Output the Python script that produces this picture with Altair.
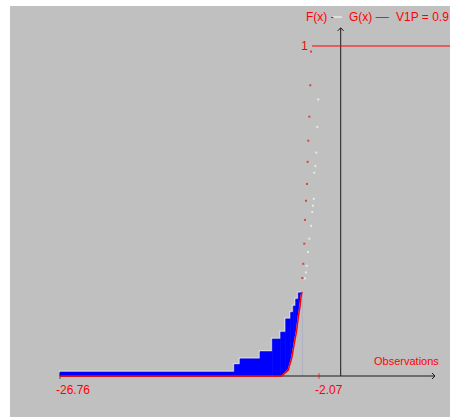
import altair as alt
import pandas as pd

# Observation range (min and max of the sample)
x_min, x_max = -26.76, -2.07

# G(x): empirical step function, step start positions and levels
g_x = [-26.76, -10.14, -9.60, -7.69, -6.52, -5.72, -5.24, -4.77, -4.52, -4.29, -4.04]
g_y = [0.012, 0.035, 0.052, 0.074, 0.112, 0.133, 0.173, 0.193, 0.212, 0.233, 0.252]
g_end = -3.69

# F(x): lower part of the theoretical curve
f_x = [-26.76, -5.62, -5.00, -4.67, -4.42, -4.19, -4.04, -3.88, -3.78, -3.69]
f_y = [0.0, 0.0, 0.018, 0.054, 0.100, 0.139, 0.179, 0.210, 0.240, 0.255]

# Upper, steep part of both curves (sampled points)
f_dot_x = [-3.66, -3.57, -3.47, -3.40, -3.31, -3.21, -3.15, -3.09, -2.99, -2.90, -2.83]
f_dot_y = [0.297, 0.340, 0.401, 0.473, 0.531, 0.582, 0.649, 0.713, 0.786, 0.881, 0.983]
g_dot_x = [-3.40, -3.31, -3.24, -3.12, -2.99, -2.83, -2.71, -2.64, -2.57, -2.52, -2.42, -2.33, -2.23, -2.14]
g_dot_y = [0.296, 0.314, 0.334, 0.376, 0.416, 0.455, 0.497, 0.516, 0.537, 0.616, 0.636, 0.677, 0.755, 0.838]
f_one_start = -2.73

legend_text = ["F(x) -", "G(x) ––", "V1P = 0.9"]
x_label = "Observations"

W, H = 440, 411
X_DOM = [-31.525, 10.42]
Y_DOM = [-0.1242, 1.1212]
xs = alt.Scale(domain=X_DOM, nice=False, zero=False)
ys = alt.Scale(domain=Y_DOM, nice=False, zero=False)
RED = "#ff0000"
FONT = "Liberation Sans"

steps = pd.DataFrame({"x": g_x, "x2": g_x[1:] + [g_end], "y": g_y, "y0": 0.0})
step_line = pd.DataFrame({"x": g_x + [g_end], "y": g_y + [g_y[-1]]})
fcurve = pd.DataFrame({"x": f_x, "y": f_y})
fcover = fcurve[fcurve["x"] >= -5.62].assign(y0=-0.002)
fdots = pd.DataFrame({"x": f_dot_x, "y": f_dot_y})
gdots = pd.DataFrame({"x": g_dot_x, "y": g_dot_y})
one = pd.DataFrame({"x": [f_one_start], "x2": [X_DOM[1]], "y": [1.0]})


def X(f="x"):
    return alt.X(f"{f}:Q", scale=xs, axis=None)


def Y(f="y"):
    return alt.Y(f"{f}:Q", scale=ys, axis=None)


# G(x) staircase, light edge along its outline, then F(x) cuts it from below
highlight = alt.Chart(step_line).mark_line(
    interpolate="step-after", color="#dcdcdc", strokeWidth=1, yOffset=-1, xOffset=-1
).encode(x=X(), y=Y())
blue = alt.Chart(steps).mark_rect(color="#0000ff", stroke="#0000ff", strokeWidth=0.6).encode(
    x=X(), x2="x2:Q", y=Y("y0"), y2="y:Q")
cover = alt.Chart(fcover).mark_area(
    color="#c0c0c0", stroke="#c0c0c0", strokeWidth=1.5, interpolate="linear"
).encode(x=X(), y=Y(), y2="y0:Q")

axes = pd.DataFrame({"x": [x_min, 0.0], "x2": [8.99, 0.0], "y": [0.0, 0.0], "y2": [0.0, 1.055]})
axis_lines = alt.Chart(axes).mark_rule(color="#1a1a1a", strokeWidth=1).encode(
    x=X(), x2="x2:Q", y=Y(), y2="y2:Q")
arrow_r = alt.Chart(pd.DataFrame({"x": [8.99], "y": [0.0]})).mark_point(
    shape="M-1,-1L0,0L-1,1", size=36, filled=False, color="#1a1a1a", strokeWidth=1, opacity=1
).encode(x=X(), y=Y())
arrow_u = alt.Chart(pd.DataFrame({"x": [0.0], "y": [1.055]})).mark_point(
    shape="M-1,1L0,0L1,1", size=36, filled=False, color="#1a1a1a", strokeWidth=1, opacity=1
).encode(x=X(), y=Y())

fline = alt.Chart(fcurve).mark_line(color=RED, strokeWidth=1.5).encode(x=X(), y=Y())
one_line = alt.Chart(one).mark_rule(color=RED, strokeWidth=1.2).encode(x=X(), x2="x2:Q", y=Y())

red_dots = alt.Chart(fdots).mark_square(color="#e83030", size=4, opacity=0.9).encode(x=X(), y=Y())
white_dots = alt.Chart(gdots).mark_square(color="#ececec", size=4, opacity=0.9).encode(x=X(), y=Y())

tick_min = alt.Chart(pd.DataFrame({"x": [x_min], "y": [0.0]})).mark_tick(
    color="#1a1a1a", thickness=1, size=6).encode(x=X(), y=Y())
tick_max = alt.Chart(pd.DataFrame({"x": [x_max], "y": [0.0]})).mark_tick(
    color=RED, thickness=1, size=6).encode(x=X(), y=Y())

tick_labels = pd.DataFrame({"x": [x_min, x_max], "y": [0.0, 0.0], "t": ["-26.76", "-2.07"]})
tlabels = alt.Chart(tick_labels).mark_text(
    color=RED, font=FONT, fontSize=12, align="left", baseline="middle", dx=-4, dy=14
).encode(x=X(), y=Y(), text="t:N")

one_label = alt.Chart(pd.DataFrame({"t": ["1"], "y": [1.0]})).mark_text(
    color=RED, font=FONT, fontSize=12, align="right", baseline="middle"
).encode(x=alt.value(298), y=Y(), text="t:N")

obs = alt.Chart(pd.DataFrame({"t": [x_label]})).mark_text(
    color=RED, font=FONT, fontSize=11, align="left", baseline="middle"
).encode(x=alt.value(364), y=alt.value(356), text="t:N")

leg = pd.DataFrame({"t": legend_text, "px": [296, 339, 386]})
legend = alt.Chart(leg).mark_text(
    color=RED, font=FONT, fontSize=12, align="left", baseline="middle"
).encode(x=alt.X("px:Q", scale=None, axis=None), y=alt.value(11), text="t:N")
leg_white = alt.Chart(pd.DataFrame({"a": [323]})).mark_rule(color="white", strokeWidth=1).encode(
    x=alt.value(323), x2=alt.value(332), y=alt.value(11))

chart = alt.layer(
    highlight, blue, cover, axis_lines, arrow_r, arrow_u, fline, one_line,
    white_dots, red_dots, tick_min, tick_max, tlabels, one_label, obs, legend, leg_white
).properties(
    width=W, height=H,
    autosize=alt.AutoSizeParams(type="none"),
    padding={"left": 10, "top": 6, "right": 0, "bottom": 0},
    background="white",
).configure_view(fill="#c0c0c0", stroke=None)

chart.save("out.html", embed_options={"renderer": "svg", "actions": False})
